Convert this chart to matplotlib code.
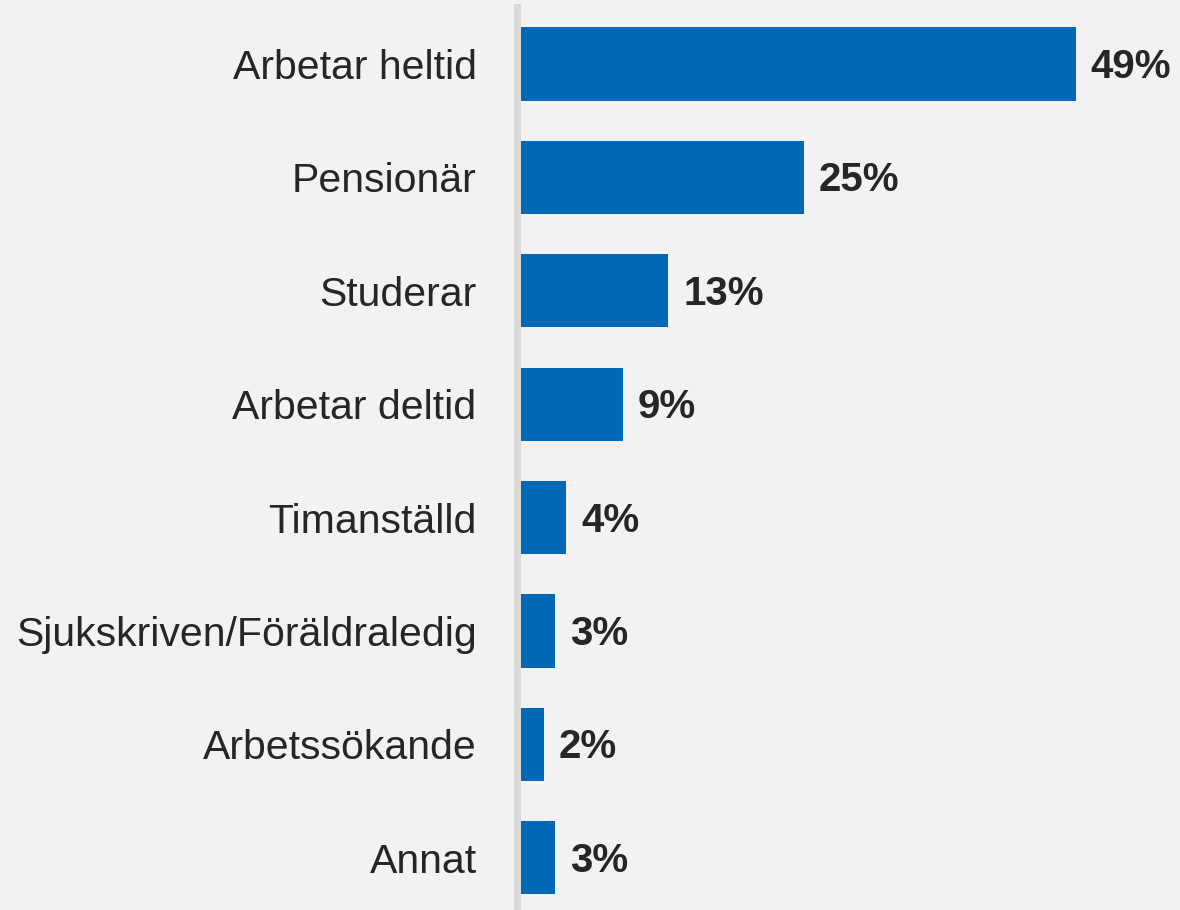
import matplotlib.pyplot as plt

plt.rcParams['font.family'] = ['Liberation Sans', 'DejaVu Sans']

categories = ['Arbetar heltid', 'Pensionär', 'Studerar', 'Arbetar deltid',
              'Timanställd', 'Sjukskriven/Föräldraledig', 'Arbetssökande', 'Annat']
values = [49, 25, 13, 9, 4, 3, 2, 3]

bg = '#f2f2f4'
bar_color = '#0068b5'

fig = plt.figure(figsize=(11.8, 9.1), dpi=100, facecolor=bg)
ax = fig.add_axes([521 / 1180, 0, 659 / 1180, 1 - 7 / 910], facecolor=bg)

ypos = list(range(len(categories)))
ax.barh(ypos, values, height=0.645, color=bar_color, zorder=3)

for y, v in zip(ypos, values):
    ax.annotate(f'{v}%', xy=(v, y), xytext=(15, -3), textcoords='offset pixels',
                va='center', ha='left', fontsize=29, fontweight='bold', color='#262626')

ax.set_xlim(0, 58.2)
ax.set_ylim(7.46, -0.503)
ax.set_yticks(ypos)
ax.set_yticklabels(categories)
ax.tick_params(axis='y', length=0, pad=29, labelsize=29.5, labelcolor='#262626')
ax.set_xticks([])

for side in ['top', 'right', 'bottom']:
    ax.spines[side].set_visible(False)
ax.spines['left'].set_color('#d9d9d9')
ax.spines['left'].set_linewidth(5)
ax.spines['left'].set_position(('outward', 3))

fig.savefig('out.png', dpi=100, facecolor=bg)
